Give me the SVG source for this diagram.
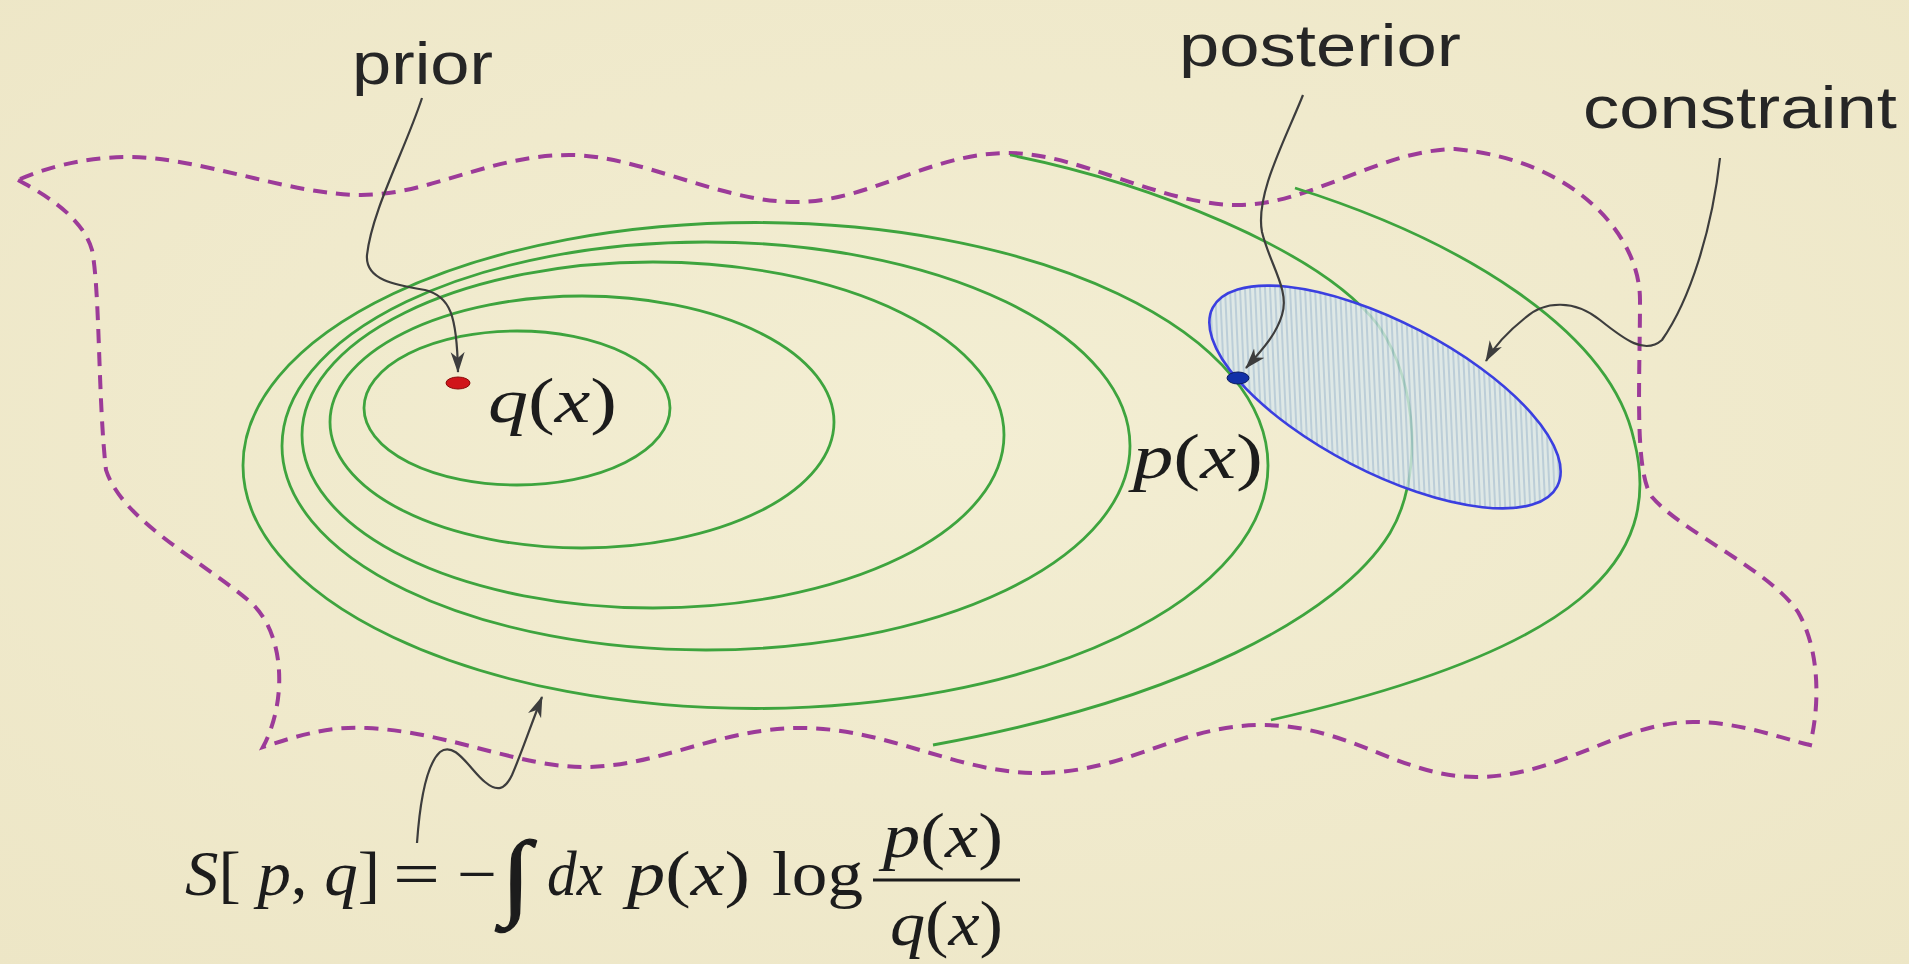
<svg xmlns="http://www.w3.org/2000/svg" width="1909" height="964" viewBox="0 0 1909 964">
  <defs>
    <style>
      .label { font-family: "Liberation Sans", Arial, sans-serif; font-size: 60px; fill: #262626; }
      .math { font-family: "Liberation Serif", "Times New Roman", serif; font-size: 64px; fill: #1c1c1c; }
      .f63 { font-size: 63px; }
      .int { font-size: 95px; stroke: #1c1c1c; stroke-width: 1.2; }
      .it { font-style: italic; }
      .contour { fill: none; stroke: #3ea43e; stroke-width: 2.8; }
      .boundary { fill: none; stroke: #9c3b99; stroke-width: 4; stroke-dasharray: 14 9; stroke-linecap: butt; }
      .conn { fill: none; stroke: #3d3d3d; stroke-width: 2.2; marker-end: url(#arrow); }
    </style>
    <marker id="arrow" markerUnits="userSpaceOnUse" markerWidth="22" markerHeight="16" refX="20" refY="7" orient="auto">
      <path d="M0,0 L21,7 L0,14 L6,7 Z" fill="#3d3d3d"/>
    </marker>
    <pattern id="hatch" patternUnits="userSpaceOnUse" width="5" height="5" patternTransform="rotate(-30)">
      <rect width="5" height="5" fill="#d9e7ec"/>
      <line x1="1" y1="0" x2="1" y2="5" stroke="#9db9d3" stroke-width="1.4"/>
    </pattern>
    <radialGradient id="bg" cx="50%" cy="45%" r="75%">
      <stop offset="0" stop-color="#f3eed3"/>
      <stop offset="1" stop-color="#ede6c6"/>
    </radialGradient>
  </defs>

  <rect x="0" y="0" width="1909" height="964" fill="url(#bg)"/>

  <g id="boundary">
    <path class="boundary" d="M18,180 C40,192 82,215 92,250 C100,290 98,400 106,470 C122,520 200,560 248,600 C285,630 288,700 263,747 C300,735 330,726 367,728 C450,732 520,768 587,767 C660,766 720,728 801,728 C890,728 960,775 1042,773 C1130,771 1180,725 1262,725 C1350,725 1400,777 1476,777 C1560,777 1620,722 1693,722 C1740,722 1780,738 1810,745 C1820,705 1820,650 1798,612 C1770,570 1682,532 1652,497 C1634,472 1640,380 1640,300 C1640,235 1575,160 1455,149 C1380,150 1310,205 1238,205 C1160,205 1080,153 1008,153 C930,153 870,202 795,202 C720,202 640,155 569,155 C490,155 430,195 361,195 C290,195 200,157 128,157 C80,157 40,170 18,180 Z"/>
  </g>

  <g id="contours">
    <ellipse class="contour" cx="517" cy="408" rx="153" ry="77"/>
    <ellipse class="contour" cx="582" cy="422" rx="252" ry="126"/>
    <ellipse class="contour" cx="653" cy="435" rx="351" ry="173"/>
    <ellipse class="contour" cx="706" cy="446" rx="424" ry="204"/>
    <ellipse class="contour" cx="755.5" cy="465.5" rx="512.5" ry="243"/>
    <path class="contour" d="M1010,155 C1150,183 1320,250 1378,325 C1420,385 1422,480 1390,533 C1340,615 1180,700 933,745"/>
    <path class="contour" d="M1295,188 C1460,240 1610,330 1634,440 C1665,560 1580,650 1271,720"/>
  </g>

  <g id="constraint-region">
    <ellipse cx="1385" cy="397" rx="194" ry="75" transform="rotate(27.4 1385 397)" fill="url(#hatch)" fill-opacity="0.8" stroke="#3b3fe0" stroke-width="2.6"/>
  </g>

  <g id="prior-node">
    <ellipse cx="458" cy="383" rx="12" ry="6" fill="#d0141a" stroke="#8a0a0a" stroke-width="1"/>
    <text class="math" x="488" y="422" textLength="129" lengthAdjust="spacingAndGlyphs"><tspan class="it">q</tspan>(<tspan class="it">x</tspan>)</text>
  </g>

  <g id="posterior-node">
    <ellipse cx="1238" cy="378" rx="11" ry="6" fill="#1230a8" stroke="#0a1a60" stroke-width="1"/>
    <text class="math" x="1133" y="478" textLength="130" lengthAdjust="spacingAndGlyphs"><tspan class="it">p</tspan>(<tspan class="it">x</tspan>)</text>
  </g>

  <g id="label-prior">
    <text class="label" x="352" y="84" textLength="141" lengthAdjust="spacingAndGlyphs">prior</text>
  </g>
  <g id="label-posterior">
    <text class="label" x="1179" y="66" textLength="282" lengthAdjust="spacingAndGlyphs">posterior</text>
  </g>
  <g id="label-constraint">
    <text class="label" x="1583" y="128" textLength="314" lengthAdjust="spacingAndGlyphs">constraint</text>
  </g>

  <g id="formula">
    <text class="math f63" x="185" y="895" textLength="195" lengthAdjust="spacingAndGlyphs"><tspan class="it">S</tspan>[ <tspan class="it">p</tspan>, <tspan class="it">q</tspan>]</text>
    <text class="math f63" x="393" y="895" textLength="47" lengthAdjust="spacingAndGlyphs">=</text>
    <text class="math f63" x="457" y="895" textLength="40" lengthAdjust="spacingAndGlyphs">−</text>
    <text class="math int" x="501" y="907" textLength="30" lengthAdjust="spacingAndGlyphs">∫</text>
    <text class="math f63 it" x="547" y="895" textLength="56" lengthAdjust="spacingAndGlyphs">dx</text>
    <text class="math f63" x="627" y="895" textLength="123" lengthAdjust="spacingAndGlyphs"><tspan class="it">p</tspan>(<tspan class="it">x</tspan>)</text>
    <text class="math f63" x="772" y="895" textLength="91" lengthAdjust="spacingAndGlyphs">log</text>
    <line x1="873" y1="880" x2="1020" y2="880" stroke="#1c1c1c" stroke-width="3"/>
    <text class="math f63" x="883" y="857" textLength="120" lengthAdjust="spacingAndGlyphs"><tspan class="it">p</tspan>(<tspan class="it">x</tspan>)</text>
    <text class="math f63" x="890" y="945" textLength="113" lengthAdjust="spacingAndGlyphs"><tspan class="it">q</tspan>(<tspan class="it">x</tspan>)</text>
  </g>

  <g id="connectors">
    <path class="conn" d="M422,98 C405,150 372,210 367,255 C365,280 395,285 425,290 C450,296 457,315 458,372"/>
    <path class="conn" d="M1303,95 C1285,140 1255,195 1262,232 C1270,265 1290,290 1282,315 C1276,335 1262,350 1246,368"/>
    <path class="conn" d="M1720,158 C1712,230 1690,300 1662,340 C1645,355 1625,340 1600,320 C1575,300 1545,300 1525,318 C1510,330 1495,345 1486,361"/>
    <path class="conn" d="M417,843 C420,800 426,765 440,752 C455,740 470,770 485,782 C497,792 505,790 512,775 C522,752 532,722 542,697"/>
  </g>
</svg>
